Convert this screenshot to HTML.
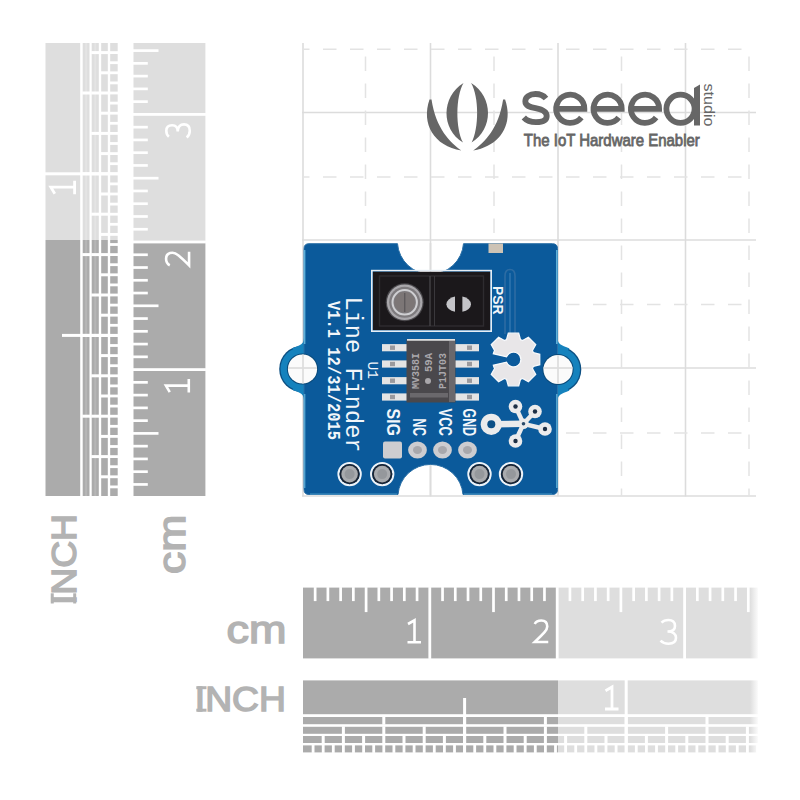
<!DOCTYPE html>
<html><head><meta charset="utf-8"><style>
html,body{margin:0;padding:0;background:#fff;width:800px;height:800px;overflow:hidden}
svg{display:block}
</style></head><body>
<svg width="800" height="800" viewBox="0 0 800 800" font-family="Liberation Sans, sans-serif">
<rect width="800" height="800" fill="#fff"/>
<line x1="303" y1="43" x2="303" y2="496.5" stroke="#dcdcdc" stroke-width="1.6"/>
<line x1="430.5" y1="43" x2="430.5" y2="496.5" stroke="#dcdcdc" stroke-width="1.6"/>
<line x1="558" y1="43" x2="558" y2="496.5" stroke="#dcdcdc" stroke-width="1.6"/>
<line x1="685.5" y1="43" x2="685.5" y2="496.5" stroke="#dcdcdc" stroke-width="1.6"/>
<line x1="302" y1="112.5" x2="756" y2="112.5" stroke="#dcdcdc" stroke-width="1.6"/>
<line x1="302" y1="240" x2="756" y2="240" stroke="#dcdcdc" stroke-width="1.6"/>
<line x1="302" y1="368" x2="756" y2="368" stroke="#dcdcdc" stroke-width="1.6"/>
<line x1="302" y1="496" x2="756" y2="496" stroke="#dcdcdc" stroke-width="1.6"/>
<line x1="365.5" y1="56.5" x2="365.5" y2="496" stroke="#e3e3e3" stroke-width="1.5" stroke-dasharray="14.5 12.5"/>
<line x1="494" y1="56.5" x2="494" y2="496" stroke="#e3e3e3" stroke-width="1.5" stroke-dasharray="14.5 12.5"/>
<line x1="621.5" y1="56.5" x2="621.5" y2="496" stroke="#e3e3e3" stroke-width="1.5" stroke-dasharray="14.5 12.5"/>
<line x1="749" y1="56.5" x2="749" y2="496" stroke="#e3e3e3" stroke-width="1.5" stroke-dasharray="14.5 12.5"/>
<line x1="303" y1="49.2" x2="742" y2="49.2" stroke="#e3e3e3" stroke-width="1.5" stroke-dasharray="13.5 13.5" stroke-dashoffset="7"/>
<line x1="303" y1="177" x2="742" y2="177" stroke="#e3e3e3" stroke-width="1.5" stroke-dasharray="13.5 13.5" stroke-dashoffset="7"/>
<line x1="303" y1="304.5" x2="742" y2="304.5" stroke="#e3e3e3" stroke-width="1.5" stroke-dasharray="13.5 13.5" stroke-dashoffset="7"/>
<line x1="303" y1="433" x2="742" y2="433" stroke="#e3e3e3" stroke-width="1.5" stroke-dasharray="13.5 13.5" stroke-dashoffset="7"/>
<rect x="45.5" y="43" width="34.70" height="197" fill="#dedede"/>
<rect x="45.5" y="240" width="34.70" height="256" fill="#ababab"/>
<rect x="82.7" y="43" width="6.80" height="197" fill="#dedede"/>
<rect x="82.7" y="240" width="6.80" height="256" fill="#ababab"/>
<rect x="85.10" y="43" width="2" height="197" fill="#e4e4e4"/>
<rect x="85.10" y="240" width="2" height="256" fill="#b6b6b6"/>
<rect x="82.2" y="414.70" width="7.80" height="3" fill="#ffffff"/>
<rect x="82.2" y="333.90" width="7.80" height="3" fill="#ffffff"/>
<rect x="82.2" y="253.10" width="7.80" height="3" fill="#ffffff"/>
<rect x="82.2" y="172.30" width="7.80" height="3" fill="#ffffff"/>
<rect x="82.2" y="91.50" width="7.80" height="3" fill="#ffffff"/>
<rect x="91.7" y="43" width="7.10" height="197" fill="#dedede"/>
<rect x="91.7" y="240" width="7.10" height="256" fill="#ababab"/>
<rect x="94.25" y="43" width="2" height="197" fill="#e4e4e4"/>
<rect x="94.25" y="240" width="2" height="256" fill="#b6b6b6"/>
<rect x="91.2" y="455.10" width="8.10" height="3" fill="#ffffff"/>
<rect x="91.2" y="414.70" width="8.10" height="3" fill="#ffffff"/>
<rect x="91.2" y="374.30" width="8.10" height="3" fill="#ffffff"/>
<rect x="91.2" y="333.90" width="8.10" height="3" fill="#ffffff"/>
<rect x="91.2" y="293.50" width="8.10" height="3" fill="#ffffff"/>
<rect x="91.2" y="253.10" width="8.10" height="3" fill="#ffffff"/>
<rect x="91.2" y="212.70" width="8.10" height="3" fill="#ffffff"/>
<rect x="91.2" y="172.30" width="8.10" height="3" fill="#ffffff"/>
<rect x="91.2" y="131.90" width="8.10" height="3" fill="#ffffff"/>
<rect x="91.2" y="91.50" width="8.10" height="3" fill="#ffffff"/>
<rect x="91.2" y="51.10" width="8.10" height="3" fill="#ffffff"/>
<rect x="101.2" y="43" width="6.60" height="197" fill="#dedede"/>
<rect x="101.2" y="240" width="6.60" height="256" fill="#ababab"/>
<rect x="100.7" y="475.30" width="7.60" height="3" fill="#ffffff"/>
<rect x="100.7" y="455.10" width="7.60" height="3" fill="#ffffff"/>
<rect x="100.7" y="434.90" width="7.60" height="3" fill="#ffffff"/>
<rect x="100.7" y="414.70" width="7.60" height="3" fill="#ffffff"/>
<rect x="100.7" y="394.50" width="7.60" height="3" fill="#ffffff"/>
<rect x="100.7" y="374.30" width="7.60" height="3" fill="#ffffff"/>
<rect x="100.7" y="354.10" width="7.60" height="3" fill="#ffffff"/>
<rect x="100.7" y="333.90" width="7.60" height="3" fill="#ffffff"/>
<rect x="100.7" y="313.70" width="7.60" height="3" fill="#ffffff"/>
<rect x="100.7" y="293.50" width="7.60" height="3" fill="#ffffff"/>
<rect x="100.7" y="273.30" width="7.60" height="3" fill="#ffffff"/>
<rect x="100.7" y="253.10" width="7.60" height="3" fill="#ffffff"/>
<rect x="100.7" y="232.90" width="7.60" height="3" fill="#ffffff"/>
<rect x="100.7" y="212.70" width="7.60" height="3" fill="#ffffff"/>
<rect x="100.7" y="192.50" width="7.60" height="3" fill="#ffffff"/>
<rect x="100.7" y="172.30" width="7.60" height="3" fill="#ffffff"/>
<rect x="100.7" y="152.10" width="7.60" height="3" fill="#ffffff"/>
<rect x="100.7" y="131.90" width="7.60" height="3" fill="#ffffff"/>
<rect x="100.7" y="111.70" width="7.60" height="3" fill="#ffffff"/>
<rect x="100.7" y="91.50" width="7.60" height="3" fill="#ffffff"/>
<rect x="100.7" y="71.30" width="7.60" height="3" fill="#ffffff"/>
<rect x="100.7" y="51.10" width="7.60" height="3" fill="#ffffff"/>
<rect x="110.2" y="43" width="7.50" height="197" fill="#dedede"/>
<rect x="110.2" y="240" width="7.50" height="256" fill="#ababab"/>
<rect x="109.7" y="485.50" width="8.50" height="2.8" fill="#ffffff"/>
<rect x="109.7" y="475.40" width="8.50" height="2.8" fill="#ffffff"/>
<rect x="109.7" y="465.30" width="8.50" height="2.8" fill="#ffffff"/>
<rect x="109.7" y="455.20" width="8.50" height="2.8" fill="#ffffff"/>
<rect x="109.7" y="445.10" width="8.50" height="2.8" fill="#ffffff"/>
<rect x="109.7" y="435.00" width="8.50" height="2.8" fill="#ffffff"/>
<rect x="109.7" y="424.90" width="8.50" height="2.8" fill="#ffffff"/>
<rect x="109.7" y="414.80" width="8.50" height="2.8" fill="#ffffff"/>
<rect x="109.7" y="404.70" width="8.50" height="2.8" fill="#ffffff"/>
<rect x="109.7" y="394.60" width="8.50" height="2.8" fill="#ffffff"/>
<rect x="109.7" y="384.50" width="8.50" height="2.8" fill="#ffffff"/>
<rect x="109.7" y="374.40" width="8.50" height="2.8" fill="#ffffff"/>
<rect x="109.7" y="364.30" width="8.50" height="2.8" fill="#ffffff"/>
<rect x="109.7" y="354.20" width="8.50" height="2.8" fill="#ffffff"/>
<rect x="109.7" y="344.10" width="8.50" height="2.8" fill="#ffffff"/>
<rect x="109.7" y="334.00" width="8.50" height="2.8" fill="#ffffff"/>
<rect x="109.7" y="323.90" width="8.50" height="2.8" fill="#ffffff"/>
<rect x="109.7" y="313.80" width="8.50" height="2.8" fill="#ffffff"/>
<rect x="109.7" y="303.70" width="8.50" height="2.8" fill="#ffffff"/>
<rect x="109.7" y="293.60" width="8.50" height="2.8" fill="#ffffff"/>
<rect x="109.7" y="283.50" width="8.50" height="2.8" fill="#ffffff"/>
<rect x="109.7" y="273.40" width="8.50" height="2.8" fill="#ffffff"/>
<rect x="109.7" y="263.30" width="8.50" height="2.8" fill="#ffffff"/>
<rect x="109.7" y="253.20" width="8.50" height="2.8" fill="#ffffff"/>
<rect x="109.7" y="243.10" width="8.50" height="2.8" fill="#ffffff"/>
<rect x="109.7" y="233.00" width="8.50" height="2.8" fill="#ffffff"/>
<rect x="109.7" y="222.90" width="8.50" height="2.8" fill="#ffffff"/>
<rect x="109.7" y="212.80" width="8.50" height="2.8" fill="#ffffff"/>
<rect x="109.7" y="202.70" width="8.50" height="2.8" fill="#ffffff"/>
<rect x="109.7" y="192.60" width="8.50" height="2.8" fill="#ffffff"/>
<rect x="109.7" y="182.50" width="8.50" height="2.8" fill="#ffffff"/>
<rect x="109.7" y="172.40" width="8.50" height="2.8" fill="#ffffff"/>
<rect x="109.7" y="162.30" width="8.50" height="2.8" fill="#ffffff"/>
<rect x="109.7" y="152.20" width="8.50" height="2.8" fill="#ffffff"/>
<rect x="109.7" y="142.10" width="8.50" height="2.8" fill="#ffffff"/>
<rect x="109.7" y="132.00" width="8.50" height="2.8" fill="#ffffff"/>
<rect x="109.7" y="121.90" width="8.50" height="2.8" fill="#ffffff"/>
<rect x="109.7" y="111.80" width="8.50" height="2.8" fill="#ffffff"/>
<rect x="109.7" y="101.70" width="8.50" height="2.8" fill="#ffffff"/>
<rect x="109.7" y="91.60" width="8.50" height="2.8" fill="#ffffff"/>
<rect x="109.7" y="81.50" width="8.50" height="2.8" fill="#ffffff"/>
<rect x="109.7" y="71.40" width="8.50" height="2.8" fill="#ffffff"/>
<rect x="109.7" y="61.30" width="8.50" height="2.8" fill="#ffffff"/>
<rect x="109.7" y="51.20" width="8.50" height="2.8" fill="#ffffff"/>
<rect x="62" y="333.90" width="57" height="3" fill="#ffffff"/>
<rect x="44" y="172.30" width="75" height="3" fill="#ffffff"/>
<rect x="62" y="10.70" width="57" height="3" fill="#ffffff"/>
<rect x="133.5" y="43" width="71.90" height="199" fill="#dedede"/>
<rect x="133.5" y="242" width="71.90" height="254" fill="#ababab"/>
<rect x="133.0" y="483.09" width="14.8" height="2.7" fill="#ffffff"/>
<rect x="133.0" y="470.33" width="14.8" height="2.7" fill="#ffffff"/>
<rect x="133.0" y="457.57" width="14.8" height="2.7" fill="#ffffff"/>
<rect x="133.0" y="444.81" width="14.8" height="2.7" fill="#ffffff"/>
<rect x="133.0" y="432.05" width="25.5" height="2.7" fill="#ffffff"/>
<rect x="133.0" y="419.29" width="14.8" height="2.7" fill="#ffffff"/>
<rect x="133.0" y="406.53" width="14.8" height="2.7" fill="#ffffff"/>
<rect x="133.0" y="393.77" width="14.8" height="2.7" fill="#ffffff"/>
<rect x="133.0" y="381.01" width="14.8" height="2.7" fill="#ffffff"/>
<rect x="133.0" y="368.20" width="72.90" height="2.8" fill="#ffffff"/>
<rect x="133.0" y="355.49" width="14.8" height="2.7" fill="#ffffff"/>
<rect x="133.0" y="342.73" width="14.8" height="2.7" fill="#ffffff"/>
<rect x="133.0" y="329.97" width="14.8" height="2.7" fill="#ffffff"/>
<rect x="133.0" y="317.21" width="14.8" height="2.7" fill="#ffffff"/>
<rect x="133.0" y="304.45" width="25.5" height="2.7" fill="#ffffff"/>
<rect x="133.0" y="291.69" width="14.8" height="2.7" fill="#ffffff"/>
<rect x="133.0" y="278.93" width="14.8" height="2.7" fill="#ffffff"/>
<rect x="133.0" y="266.17" width="14.8" height="2.7" fill="#ffffff"/>
<rect x="133.0" y="253.41" width="14.8" height="2.7" fill="#ffffff"/>
<rect x="133.0" y="240.60" width="72.90" height="2.8" fill="#ffffff"/>
<rect x="133.0" y="227.89" width="14.8" height="2.7" fill="#ffffff"/>
<rect x="133.0" y="215.13" width="14.8" height="2.7" fill="#ffffff"/>
<rect x="133.0" y="202.37" width="14.8" height="2.7" fill="#ffffff"/>
<rect x="133.0" y="189.61" width="14.8" height="2.7" fill="#ffffff"/>
<rect x="133.0" y="176.85" width="25.5" height="2.7" fill="#ffffff"/>
<rect x="133.0" y="164.09" width="14.8" height="2.7" fill="#ffffff"/>
<rect x="133.0" y="151.33" width="14.8" height="2.7" fill="#ffffff"/>
<rect x="133.0" y="138.57" width="14.8" height="2.7" fill="#ffffff"/>
<rect x="133.0" y="125.81" width="14.8" height="2.7" fill="#ffffff"/>
<rect x="133.0" y="113.00" width="72.90" height="2.8" fill="#ffffff"/>
<rect x="133.0" y="100.29" width="14.8" height="2.7" fill="#ffffff"/>
<rect x="133.0" y="87.53" width="14.8" height="2.7" fill="#ffffff"/>
<rect x="133.0" y="74.77" width="14.8" height="2.7" fill="#ffffff"/>
<rect x="133.0" y="62.01" width="14.8" height="2.7" fill="#ffffff"/>
<rect x="133.0" y="49.25" width="25.5" height="2.7" fill="#ffffff"/>
<path d="M0.5,4 L7,0.3 L7,22.3 M0,22.3 L13.5,22.3" transform="translate(165.6,392.6) rotate(-90) scale(1.0,1.04)" fill="none" stroke="#ffffff" stroke-width="2.60" vector-effect="non-scaling-stroke"/>
<path d="M1.5,4.5 C3,1.5 5.5,1 8,1 C12,1 14,3.5 14,7 C14,10.5 11,13.5 1.5,22.5 L15,22.5" transform="translate(165,266.8) rotate(-90) scale(1.0,1.07)" fill="none" stroke="#ffffff" stroke-width="2.60" vector-effect="non-scaling-stroke"/>
<path d="M1,3 C3,1 6,0.5 8,0.5 C12,0.5 14.5,2.5 14.5,6.2 C14.5,9.8 11.5,11.7 7,11.7 C12.5,11.7 15.5,14.2 15.5,17.8 C15.5,21.8 12.5,23.5 8,23.5 C5,23.5 2,22.5 0,20.5" transform="translate(165.8,137.5) rotate(-90) scale(0.85,1.02)" fill="none" stroke="#ffffff" stroke-width="2.60" vector-effect="non-scaling-stroke"/>
<path d="M0.5,4 L7,0.3 L7,22.3 M0,22.3 L13.5,22.3" transform="translate(50.5,194.2) rotate(-90) scale(1.0,1.08)" fill="none" stroke="#ffffff" stroke-width="2.80" vector-effect="non-scaling-stroke"/>
<rect x="303" y="587.6" width="255" height="70.80" fill="#ababab"/>
<rect x="558" y="587.6" width="200" height="70.80" fill="#dedede"/>
<rect x="313.79" y="587.1" width="2.7" height="14" fill="#ffffff"/>
<rect x="326.53" y="587.1" width="2.7" height="14" fill="#ffffff"/>
<rect x="339.27" y="587.1" width="2.7" height="14" fill="#ffffff"/>
<rect x="352.01" y="587.1" width="2.7" height="14" fill="#ffffff"/>
<rect x="364.75" y="587.1" width="2.7" height="25" fill="#ffffff"/>
<rect x="377.49" y="587.1" width="2.7" height="14" fill="#ffffff"/>
<rect x="390.23" y="587.1" width="2.7" height="14" fill="#ffffff"/>
<rect x="402.97" y="587.1" width="2.7" height="14" fill="#ffffff"/>
<rect x="415.71" y="587.1" width="2.7" height="14" fill="#ffffff"/>
<rect x="428.40" y="587.1" width="2.8" height="71.80" fill="#ffffff"/>
<rect x="441.19" y="587.1" width="2.7" height="14" fill="#ffffff"/>
<rect x="453.93" y="587.1" width="2.7" height="14" fill="#ffffff"/>
<rect x="466.67" y="587.1" width="2.7" height="14" fill="#ffffff"/>
<rect x="479.41" y="587.1" width="2.7" height="14" fill="#ffffff"/>
<rect x="492.15" y="587.1" width="2.7" height="25" fill="#ffffff"/>
<rect x="504.89" y="587.1" width="2.7" height="14" fill="#ffffff"/>
<rect x="517.63" y="587.1" width="2.7" height="14" fill="#ffffff"/>
<rect x="530.37" y="587.1" width="2.7" height="14" fill="#ffffff"/>
<rect x="543.11" y="587.1" width="2.7" height="14" fill="#ffffff"/>
<rect x="555.80" y="587.1" width="2.8" height="71.80" fill="#ffffff"/>
<rect x="568.59" y="587.1" width="2.7" height="14" fill="#ffffff"/>
<rect x="581.33" y="587.1" width="2.7" height="14" fill="#ffffff"/>
<rect x="594.07" y="587.1" width="2.7" height="14" fill="#ffffff"/>
<rect x="606.81" y="587.1" width="2.7" height="14" fill="#ffffff"/>
<rect x="619.55" y="587.1" width="2.7" height="25" fill="#ffffff"/>
<rect x="632.29" y="587.1" width="2.7" height="14" fill="#ffffff"/>
<rect x="645.03" y="587.1" width="2.7" height="14" fill="#ffffff"/>
<rect x="657.77" y="587.1" width="2.7" height="14" fill="#ffffff"/>
<rect x="670.51" y="587.1" width="2.7" height="14" fill="#ffffff"/>
<rect x="683.20" y="587.1" width="2.8" height="71.80" fill="#ffffff"/>
<rect x="695.99" y="587.1" width="2.7" height="14" fill="#ffffff"/>
<rect x="708.73" y="587.1" width="2.7" height="14" fill="#ffffff"/>
<rect x="721.47" y="587.1" width="2.7" height="14" fill="#ffffff"/>
<rect x="734.21" y="587.1" width="2.7" height="14" fill="#ffffff"/>
<rect x="746.95" y="587.1" width="2.7" height="25" fill="#ffffff"/>
<path d="M0.5,4 L7,0.3 L7,22.3 M0,22.3 L13.5,22.3" transform="translate(407.5,620)" fill="none" stroke="#ffffff" stroke-width="2.60" vector-effect="non-scaling-stroke"/>
<path d="M1.5,4.5 C3,1.5 5.5,1 8,1 C12,1 14,3.5 14,7 C14,10.5 11,13.5 1.5,22.5 L15,22.5" transform="translate(533.25,619.5)" fill="none" stroke="#ffffff" stroke-width="2.60" vector-effect="non-scaling-stroke"/>
<path d="M1,3 C3,1 6,0.5 8,0.5 C12,0.5 14.5,2.5 14.5,6.2 C14.5,9.8 11.5,11.7 7,11.7 C12.5,11.7 15.5,14.2 15.5,17.8 C15.5,21.8 12.5,23.5 8,23.5 C5,23.5 2,22.5 0,20.5" transform="translate(660.5,619.5) scale(1.0,1.03)" fill="none" stroke="#ffffff" stroke-width="2.60" vector-effect="non-scaling-stroke"/>
<rect x="303" y="680.4" width="255" height="33.80" fill="#ababab"/>
<rect x="558" y="680.4" width="200" height="33.80" fill="#dedede"/>
<rect x="303" y="717" width="255" height="7.20" fill="#ababab"/>
<rect x="558" y="717" width="200" height="7.20" fill="#dedede"/>
<rect x="382.30" y="716.5" width="3" height="8.20" fill="#ffffff"/>
<rect x="463.10" y="716.5" width="3" height="8.20" fill="#ffffff"/>
<rect x="543.90" y="716.5" width="3" height="8.20" fill="#ffffff"/>
<rect x="624.70" y="716.5" width="3" height="8.20" fill="#ffffff"/>
<rect x="705.50" y="716.5" width="3" height="8.20" fill="#ffffff"/>
<rect x="303" y="726.8" width="255" height="7.00" fill="#ababab"/>
<rect x="558" y="726.8" width="200" height="7.00" fill="#dedede"/>
<rect x="341.90" y="726.3" width="3" height="8.00" fill="#ffffff"/>
<rect x="382.30" y="726.3" width="3" height="8.00" fill="#ffffff"/>
<rect x="422.70" y="726.3" width="3" height="8.00" fill="#ffffff"/>
<rect x="463.10" y="726.3" width="3" height="8.00" fill="#ffffff"/>
<rect x="503.50" y="726.3" width="3" height="8.00" fill="#ffffff"/>
<rect x="543.90" y="726.3" width="3" height="8.00" fill="#ffffff"/>
<rect x="584.30" y="726.3" width="3" height="8.00" fill="#ffffff"/>
<rect x="624.70" y="726.3" width="3" height="8.00" fill="#ffffff"/>
<rect x="665.10" y="726.3" width="3" height="8.00" fill="#ffffff"/>
<rect x="705.50" y="726.3" width="3" height="8.00" fill="#ffffff"/>
<rect x="745.90" y="726.3" width="3" height="8.00" fill="#ffffff"/>
<rect x="303" y="736" width="255" height="7.00" fill="#ababab"/>
<rect x="558" y="736" width="200" height="7.00" fill="#dedede"/>
<rect x="321.70" y="735.5" width="3" height="8.00" fill="#ffffff"/>
<rect x="341.90" y="735.5" width="3" height="8.00" fill="#ffffff"/>
<rect x="362.10" y="735.5" width="3" height="8.00" fill="#ffffff"/>
<rect x="382.30" y="735.5" width="3" height="8.00" fill="#ffffff"/>
<rect x="402.50" y="735.5" width="3" height="8.00" fill="#ffffff"/>
<rect x="422.70" y="735.5" width="3" height="8.00" fill="#ffffff"/>
<rect x="442.90" y="735.5" width="3" height="8.00" fill="#ffffff"/>
<rect x="463.10" y="735.5" width="3" height="8.00" fill="#ffffff"/>
<rect x="483.30" y="735.5" width="3" height="8.00" fill="#ffffff"/>
<rect x="503.50" y="735.5" width="3" height="8.00" fill="#ffffff"/>
<rect x="523.70" y="735.5" width="3" height="8.00" fill="#ffffff"/>
<rect x="543.90" y="735.5" width="3" height="8.00" fill="#ffffff"/>
<rect x="564.10" y="735.5" width="3" height="8.00" fill="#ffffff"/>
<rect x="584.30" y="735.5" width="3" height="8.00" fill="#ffffff"/>
<rect x="604.50" y="735.5" width="3" height="8.00" fill="#ffffff"/>
<rect x="624.70" y="735.5" width="3" height="8.00" fill="#ffffff"/>
<rect x="644.90" y="735.5" width="3" height="8.00" fill="#ffffff"/>
<rect x="665.10" y="735.5" width="3" height="8.00" fill="#ffffff"/>
<rect x="685.30" y="735.5" width="3" height="8.00" fill="#ffffff"/>
<rect x="705.50" y="735.5" width="3" height="8.00" fill="#ffffff"/>
<rect x="725.70" y="735.5" width="3" height="8.00" fill="#ffffff"/>
<rect x="745.90" y="735.5" width="3" height="8.00" fill="#ffffff"/>
<rect x="303" y="745.4" width="255" height="7.00" fill="#ababab"/>
<rect x="558" y="745.4" width="200" height="7.00" fill="#dedede"/>
<rect x="311.70" y="744.9" width="2.8" height="8.00" fill="#ffffff"/>
<rect x="321.80" y="744.9" width="2.8" height="8.00" fill="#ffffff"/>
<rect x="331.90" y="744.9" width="2.8" height="8.00" fill="#ffffff"/>
<rect x="342.00" y="744.9" width="2.8" height="8.00" fill="#ffffff"/>
<rect x="352.10" y="744.9" width="2.8" height="8.00" fill="#ffffff"/>
<rect x="362.20" y="744.9" width="2.8" height="8.00" fill="#ffffff"/>
<rect x="372.30" y="744.9" width="2.8" height="8.00" fill="#ffffff"/>
<rect x="382.40" y="744.9" width="2.8" height="8.00" fill="#ffffff"/>
<rect x="392.50" y="744.9" width="2.8" height="8.00" fill="#ffffff"/>
<rect x="402.60" y="744.9" width="2.8" height="8.00" fill="#ffffff"/>
<rect x="412.70" y="744.9" width="2.8" height="8.00" fill="#ffffff"/>
<rect x="422.80" y="744.9" width="2.8" height="8.00" fill="#ffffff"/>
<rect x="432.90" y="744.9" width="2.8" height="8.00" fill="#ffffff"/>
<rect x="443.00" y="744.9" width="2.8" height="8.00" fill="#ffffff"/>
<rect x="453.10" y="744.9" width="2.8" height="8.00" fill="#ffffff"/>
<rect x="463.20" y="744.9" width="2.8" height="8.00" fill="#ffffff"/>
<rect x="473.30" y="744.9" width="2.8" height="8.00" fill="#ffffff"/>
<rect x="483.40" y="744.9" width="2.8" height="8.00" fill="#ffffff"/>
<rect x="493.50" y="744.9" width="2.8" height="8.00" fill="#ffffff"/>
<rect x="503.60" y="744.9" width="2.8" height="8.00" fill="#ffffff"/>
<rect x="513.70" y="744.9" width="2.8" height="8.00" fill="#ffffff"/>
<rect x="523.80" y="744.9" width="2.8" height="8.00" fill="#ffffff"/>
<rect x="533.90" y="744.9" width="2.8" height="8.00" fill="#ffffff"/>
<rect x="544.00" y="744.9" width="2.8" height="8.00" fill="#ffffff"/>
<rect x="554.10" y="744.9" width="2.8" height="8.00" fill="#ffffff"/>
<rect x="564.20" y="744.9" width="2.8" height="8.00" fill="#ffffff"/>
<rect x="574.30" y="744.9" width="2.8" height="8.00" fill="#ffffff"/>
<rect x="584.40" y="744.9" width="2.8" height="8.00" fill="#ffffff"/>
<rect x="594.50" y="744.9" width="2.8" height="8.00" fill="#ffffff"/>
<rect x="604.60" y="744.9" width="2.8" height="8.00" fill="#ffffff"/>
<rect x="614.70" y="744.9" width="2.8" height="8.00" fill="#ffffff"/>
<rect x="624.80" y="744.9" width="2.8" height="8.00" fill="#ffffff"/>
<rect x="634.90" y="744.9" width="2.8" height="8.00" fill="#ffffff"/>
<rect x="645.00" y="744.9" width="2.8" height="8.00" fill="#ffffff"/>
<rect x="655.10" y="744.9" width="2.8" height="8.00" fill="#ffffff"/>
<rect x="665.20" y="744.9" width="2.8" height="8.00" fill="#ffffff"/>
<rect x="675.30" y="744.9" width="2.8" height="8.00" fill="#ffffff"/>
<rect x="685.40" y="744.9" width="2.8" height="8.00" fill="#ffffff"/>
<rect x="695.50" y="744.9" width="2.8" height="8.00" fill="#ffffff"/>
<rect x="705.60" y="744.9" width="2.8" height="8.00" fill="#ffffff"/>
<rect x="715.70" y="744.9" width="2.8" height="8.00" fill="#ffffff"/>
<rect x="725.80" y="744.9" width="2.8" height="8.00" fill="#ffffff"/>
<rect x="735.90" y="744.9" width="2.8" height="8.00" fill="#ffffff"/>
<rect x="746.00" y="744.9" width="2.8" height="8.00" fill="#ffffff"/>
<rect x="756.10" y="744.9" width="2.8" height="8.00" fill="#ffffff"/>
<rect x="463.10" y="698" width="3" height="56" fill="#ffffff"/>
<rect x="624.70" y="679" width="3" height="75" fill="#ffffff"/>
<rect x="786.30" y="698" width="3" height="56" fill="#ffffff"/>
<path d="M0.5,4 L7,0.3 L7,22.3 M0,22.3 L13.5,22.3" transform="translate(605,686.7)" fill="none" stroke="#ffffff" stroke-width="2.80" vector-effect="non-scaling-stroke"/>
<defs><linearGradient id="fr" x1="0" x2="1" y1="0" y2="0"><stop offset="0" stop-color="#fff" stop-opacity="0"/><stop offset="1" stop-color="#fff" stop-opacity="1"/></linearGradient></defs>
<rect x="750" y="580" width="9" height="180" fill="url(#fr)"/>
<text x="194.8" y="711.2" font-size="35.5" textLength="91" font-family="Liberation Sans" fill="#b3b3b3" stroke="#b3b3b3" stroke-width="1.5" lengthAdjust="spacingAndGlyphs">INCH</text>
<rect x="196.3" y="686.2" width="10.2" height="3" fill="#b3b3b3"/><rect x="196.3" y="708.7" width="10.2" height="3" fill="#b3b3b3"/>
<rect x="50.75" y="593.3" width="3" height="10.2" fill="#b3b3b3"/><rect x="73.2" y="593.3" width="3" height="10.2" fill="#b3b3b3"/>
<text x="226.5" y="643.3" font-size="39.5" textLength="60" font-family="Liberation Sans" fill="#b3b3b3" stroke="#b3b3b3" stroke-width="1.5" lengthAdjust="spacingAndGlyphs">cm</text>
<text transform="translate(75.7,605) rotate(-90)" font-size="35.5" textLength="91" font-family="Liberation Sans" fill="#b3b3b3" stroke="#b3b3b3" stroke-width="1.5" lengthAdjust="spacingAndGlyphs">INCH</text>
<text transform="translate(184.8,574) rotate(-90)" font-size="39.5" textLength="59.5" font-family="Liberation Sans" fill="#b3b3b3" stroke="#b3b3b3" stroke-width="1.5" lengthAdjust="spacingAndGlyphs">cm</text>
<path d="M463.5,83 C441,97 441,129 463,142.6 C455.5,128 455.5,97 463.5,83Z" fill="#666666"/>
<path d="M471.1,83 C493.6,97 493.6,129 471.6,142.6 C479.1,128 479.1,97 471.1,83Z" fill="#666666"/>
<path d="M429.5,99.5 C421,124 434,146 461.4,150.6 C450,142 436,129 431.5,99.5Z" fill="#666666"/>
<path d="M505.1,99.5 C513.6,124 500.6,146 473.2,150.6 C484.6,142 498.6,129 503.1,99.5Z" fill="#666666"/>
<path d="M546,98.5 C543.5,95.5 540,94 535.5,94 C529.5,94 525.3,97 525.3,101.3 C525.3,106 530,107.2 535.5,108.2 C541.5,109.3 546.7,111 546.7,116 C546.7,120.5 542,122.2 536,122.2 C530.5,122.2 526.5,120.5 523.8,117.5" fill="none" stroke="#666666" stroke-width="5.8"/>
<path d="M555.15,108.80 L584.35,108.80 A14.1,14.1 0 1 0 581.36,117.48" fill="none" stroke="#666666" stroke-width="5.8"/>
<path d="M592.50,108.80 L621.70,108.80 A14.1,14.1 0 1 0 618.71,117.48" fill="none" stroke="#666666" stroke-width="5.8"/>
<path d="M629.90,108.80 L659.10,108.80 A14.1,14.1 0 1 0 656.11,117.48" fill="none" stroke="#666666" stroke-width="5.8"/>
<circle cx="680.5" cy="108.8" r="14.1" fill="none" stroke="#666666" stroke-width="5.8"/>
<path d="M694,88 L700,84.5 L700,125.6 L694,125.6Z" fill="#666666"/>
<text transform="translate(704,83.5) rotate(90)" font-family="Liberation Sans" font-size="14" fill="#666666" textLength="43" lengthAdjust="spacingAndGlyphs">studio</text>
<text x="523.8" y="145.6" font-family="Liberation Sans" font-size="17" fill="#666666" stroke="#666666" stroke-width="0.8" textLength="176" lengthAdjust="spacingAndGlyphs">The IoT Hardware Enabler</text>
<circle cx="302.5" cy="369" r="23.3" fill="#0c4f82"/>
<circle cx="302.5" cy="369" r="22" fill="#1582bd"/>
<circle cx="558" cy="369.5" r="23.3" fill="#0c4f82"/>
<circle cx="558" cy="369.5" r="22" fill="#1582bd"/>
<path d="M304,338 C304,346 296,346 292,348.5 L304,360Z" fill="#1582bd"/>
<path d="M304,400 C304,392 296,392 292,389.5 L304,378Z" fill="#1582bd"/>
<path d="M557.5,338 C557.5,346 565.5,346 569.5,348.5 L557.5,360Z" fill="#1582bd"/>
<path d="M557.5,401 C557.5,393 565.5,393 569.5,390.5 L557.5,379Z" fill="#1582bd"/>
<path d="M309,243.7 L397.5,243.7 A33.1,33.1 0 0 0 463.5,243.7 L552.5,243.7 Q557.5,243.7 557.5,248.7 L557.5,489.5 Q557.5,494.5 552.5,494.5 L463,494.5 A32.6,32.6 0 0 0 398,494.5 L309,494.5 Q304,494.5 304,489.5 L304,248.7 Q304,243.7 309,243.7Z" fill="#0b5a9b" stroke="#2a6fa6" stroke-width="1"/>
<line x1="304.6" y1="250" x2="304.6" y2="344" stroke="#5fb0d8" stroke-width="1.6" opacity="1"/>
<line x1="304.6" y1="394" x2="304.6" y2="488" stroke="#5fb0d8" stroke-width="1.6" opacity="0.85"/>
<line x1="556.8" y1="250" x2="556.8" y2="344" stroke="#5fb0d8" stroke-width="1.6" opacity="1"/>
<line x1="556.8" y1="394" x2="556.8" y2="488" stroke="#5fb0d8" stroke-width="1.6" opacity="0.85"/>
<line x1="310" y1="494" x2="397" y2="494" stroke="#5fb0d8" stroke-width="1.2" opacity="0.7"/>
<line x1="464" y1="494" x2="552" y2="494" stroke="#5fb0d8" stroke-width="1.2" opacity="0.7"/>
<circle cx="302.5" cy="369" r="15.6" fill="#0a4a7a"/>
<circle cx="302.5" cy="369" r="14.6" fill="#fbfbfb"/>
<circle cx="558" cy="369.5" r="15.6" fill="#0a4a7a"/>
<circle cx="558" cy="369.5" r="14.6" fill="#fbfbfb"/>
<line x1="303" y1="354.5" x2="303" y2="383.5" stroke="#dcdcdc" stroke-width="1.7"/>
<line x1="288" y1="368" x2="317" y2="368" stroke="#dcdcdc" stroke-width="1.7"/>
<line x1="543.5" y1="368" x2="572.5" y2="368" stroke="#dcdcdc" stroke-width="1.7"/>
<line x1="558" y1="355" x2="558" y2="384" stroke="#dcdcdc" stroke-width="1.7"/>
<line x1="430.5" y1="243" x2="430.5" y2="271" stroke="#dcdcdc" stroke-width="1.7"/>
<line x1="430.5" y1="465" x2="430.5" y2="496" stroke="#dcdcdc" stroke-width="1.7"/>
<rect x="488.5" y="243.5" width="14.5" height="9.5" fill="#cdc3b5"/>
<rect x="371.8" y="270.6" width="119.4" height="60.6" fill="none" stroke="#e6edf4" stroke-width="1.6"/>
<rect x="373" y="271.8" width="117" height="58.2" fill="#1b181b"/>
<rect x="379.5" y="276" width="104" height="50" fill="none" stroke="#2e2c30" stroke-width="1.4"/>
<line x1="430" y1="276" x2="430" y2="326" stroke="#48464a" stroke-width="1.3"/>
<line x1="434.5" y1="276" x2="434.5" y2="326" stroke="#3a383c" stroke-width="1.0"/>
<circle cx="404.7" cy="302.3" r="19" fill="#4a484c"/>
<circle cx="404.7" cy="302.3" r="17.8" fill="#aaa8ac"/>
<circle cx="404.7" cy="302.3" r="15.5" fill="#7e7b7e"/>
<circle cx="404.7" cy="302.3" r="12.2" fill="none" stroke="#cfcfd2" stroke-width="2"/>
<circle cx="404.7" cy="302.3" r="10.2" fill="#7c7676"/>
<line x1="404.7" y1="293" x2="404.7" y2="312" stroke="#5e5a5c" stroke-width="1.4"/>
<path d="M446.4,304.2 A12.3,8 0 0 1 455,296.6 L455,311.8 A12.3,8 0 0 1 446.4,304.2Z" fill="#c4c4c8"/>
<path d="M471,304.2 A12.3,8 0 0 0 462.4,296.6 L462.4,311.8 A12.3,8 0 0 0 471,304.2Z" fill="#c4c4c8"/>
<text transform="translate(493.3,286) rotate(90)" font-family="Liberation Sans" font-weight="bold" font-size="15" fill="#f0f4f8" textLength="28.5" lengthAdjust="spacingAndGlyphs">PSR</text>
<path d="M510,269.5 C506,269.5 505,272 505,276 L505,334 M515,334 L515,276 C515,272 514,269.5 510,269.5" fill="none" stroke="#2d6ca3" stroke-width="1.6"/>
<line x1="510" y1="273" x2="510" y2="334" stroke="#3b7db5" stroke-width="1.2"/>
<rect x="382" y="344.09999999999997" width="25" height="7.2" fill="#e4e4e4"/>
<rect x="390" y="345.5" width="5" height="4.4" fill="#9a9a9e"/>
<rect x="455" y="344.09999999999997" width="24" height="7.2" fill="#e4e4e4"/>
<rect x="467" y="345.5" width="5" height="4.4" fill="#9a9a9e"/>
<rect x="382" y="360.4" width="25" height="7.2" fill="#e4e4e4"/>
<rect x="390" y="361.8" width="5" height="4.4" fill="#9a9a9e"/>
<rect x="455" y="360.4" width="24" height="7.2" fill="#e4e4e4"/>
<rect x="467" y="361.8" width="5" height="4.4" fill="#9a9a9e"/>
<rect x="382" y="377.09999999999997" width="25" height="7.2" fill="#e4e4e4"/>
<rect x="390" y="378.5" width="5" height="4.4" fill="#9a9a9e"/>
<rect x="455" y="377.09999999999997" width="24" height="7.2" fill="#e4e4e4"/>
<rect x="467" y="378.5" width="5" height="4.4" fill="#9a9a9e"/>
<rect x="382" y="393.4" width="25" height="7.2" fill="#e4e4e4"/>
<rect x="390" y="394.8" width="5" height="4.4" fill="#9a9a9e"/>
<rect x="455" y="393.4" width="24" height="7.2" fill="#e4e4e4"/>
<rect x="467" y="394.8" width="5" height="4.4" fill="#9a9a9e"/>
<rect x="406.5" y="339.5" width="49" height="63" fill="#4a484c"/>
<line x1="407" y1="339.8" x2="455" y2="339.8" stroke="#e0e0e0" stroke-width="1.8"/>
<rect x="449" y="341" width="6" height="61" fill="#6a686c"/>
<rect x="410" y="393" width="38" height="4.5" fill="#6a686c"/>
<text transform="translate(419,389) rotate(-90)" font-family="Liberation Mono" font-weight="bold" font-size="11" fill="#a9a7ab" textLength="36" lengthAdjust="spacingAndGlyphs">MV358I</text>
<text transform="translate(432,372) rotate(-90)" font-family="Liberation Mono" font-weight="bold" font-size="11" fill="#a9a7ab" textLength="19" lengthAdjust="spacingAndGlyphs">59A</text>
<circle cx="428" cy="381" r="3" fill="#a9a7ab"/>
<text transform="translate(445.5,389) rotate(-90)" font-family="Liberation Mono" font-weight="bold" font-size="11" fill="#a9a7ab" textLength="36" lengthAdjust="spacingAndGlyphs">P1JT03</text>
<text transform="translate(346,296.5) rotate(90)" font-family="Liberation Mono" font-size="24" fill="#f2f6fa" textLength="156" lengthAdjust="spacingAndGlyphs">Line Finder</text>
<text transform="translate(327.5,301) rotate(90)" font-family="Liberation Mono" font-weight="bold" font-size="18" fill="#f2f6fa" textLength="139" lengthAdjust="spacingAndGlyphs">V1.1 12/31/2015</text>
<text transform="translate(368,361.5) rotate(90)" font-family="Liberation Mono" font-size="15" fill="#f2f6fa" textLength="17.5" lengthAdjust="spacingAndGlyphs">U1</text>
<text transform="translate(386.5,408.5) rotate(90)" font-family="Liberation Sans" font-weight="bold" font-size="18" fill="#f2f6fa" textLength="27.5" lengthAdjust="spacingAndGlyphs">SIG</text>
<text transform="translate(412.5,418.5) rotate(90)" font-family="Liberation Sans" font-weight="bold" font-size="18" fill="#f2f6fa" textLength="17.5" lengthAdjust="spacingAndGlyphs">NC</text>
<text transform="translate(438.5,408.5) rotate(90)" font-family="Liberation Sans" font-weight="bold" font-size="18" fill="#f2f6fa" textLength="27.5" lengthAdjust="spacingAndGlyphs">VCC</text>
<text transform="translate(462.8,408.5) rotate(90)" font-family="Liberation Sans" font-weight="bold" font-size="18" fill="#f2f6fa" textLength="27.5" lengthAdjust="spacingAndGlyphs">GND</text>
<rect x="383" y="441.5" width="19" height="17" rx="2" fill="#cdcdd0"/>
<ellipse cx="417.5" cy="450" rx="9.4" ry="8.6" fill="#cdcdd0"/>
<ellipse cx="417.5" cy="450" rx="4.5" ry="4" fill="#a8a8ac"/>
<ellipse cx="442.5" cy="450" rx="9.4" ry="8.6" fill="#cdcdd0"/>
<ellipse cx="442.5" cy="450" rx="4.5" ry="4" fill="#a8a8ac"/>
<ellipse cx="467.5" cy="450" rx="9.4" ry="8.6" fill="#cdcdd0"/>
<ellipse cx="467.5" cy="450" rx="4.5" ry="4" fill="#a8a8ac"/>
<circle cx="349.6" cy="474.1" r="11.2" fill="none" stroke="#eef3f8" stroke-width="2"/>
<circle cx="349.6" cy="474.1" r="10.1" fill="#1a2433"/>
<circle cx="349.6" cy="474.1" r="8.3" fill="#a9abae"/>
<circle cx="349.6" cy="474.1" r="5" fill="#95989c"/>
<circle cx="382.2" cy="474.1" r="11.2" fill="none" stroke="#eef3f8" stroke-width="2"/>
<circle cx="382.2" cy="474.1" r="10.1" fill="#1a2433"/>
<circle cx="382.2" cy="474.1" r="8.3" fill="#a9abae"/>
<circle cx="382.2" cy="474.1" r="5" fill="#95989c"/>
<circle cx="479.5" cy="474.1" r="11.2" fill="none" stroke="#eef3f8" stroke-width="2"/>
<circle cx="479.5" cy="474.1" r="10.1" fill="#1a2433"/>
<circle cx="479.5" cy="474.1" r="8.3" fill="#a9abae"/>
<circle cx="479.5" cy="474.1" r="5" fill="#95989c"/>
<circle cx="511" cy="474.1" r="11.2" fill="none" stroke="#eef3f8" stroke-width="2"/>
<circle cx="511" cy="474.1" r="10.1" fill="#1a2433"/>
<circle cx="511" cy="474.1" r="8.3" fill="#a9abae"/>
<circle cx="511" cy="474.1" r="5" fill="#95989c"/>
<path d="M493.32,353.70 L493.57,352.87 L493.87,352.05 L494.19,351.24 L494.55,350.45 L491.23,344.59 L498.59,337.23 L504.45,340.55 L504.95,340.32 L505.46,340.10 L505.98,339.89 L506.50,339.70 L508.30,333.21 L518.70,333.21 L520.50,339.70 L521.02,339.89 L521.54,340.10 L522.05,340.32 L522.55,340.55 L528.41,337.23 L535.77,344.59 L532.45,350.45 L532.68,350.95 L532.90,351.46 L533.11,351.98 L533.30,352.50 L539.79,354.30 L539.79,364.70 L533.30,366.50 L533.11,367.02 L532.90,367.54 L532.68,368.05 L532.45,368.55 L535.77,374.41 L528.41,381.77 L522.55,378.45 L522.05,378.68 L521.54,378.90 L521.02,379.11 L520.50,379.30 L518.70,385.79 L508.30,385.79 L506.50,379.30 L505.98,379.11 L505.46,378.90 L504.95,378.68 L504.45,378.45 L498.59,381.77 L491.23,374.41 L494.55,368.55 L494.19,367.76 L493.87,366.95 L493.57,366.13 L493.32,365.30 L506.57,362.10 A7.4,7.4 0 1 0 506.57,356.90 Z" fill="#e8e6e8" stroke="#f8fafc" stroke-width="1.2" fill-rule="evenodd"/>
<line x1="491.3" y1="424.3" x2="523.5" y2="423.8" stroke="#ebebec" stroke-width="6.6"/>
<line x1="523.5" y1="423.8" x2="515.5" y2="406.5" stroke="#ebebec" stroke-width="4.4"/>
<line x1="523.5" y1="423.8" x2="535" y2="411.5" stroke="#ebebec" stroke-width="4.4"/>
<line x1="523.5" y1="423.8" x2="545" y2="429" stroke="#ebebec" stroke-width="4.4"/>
<line x1="523.5" y1="423.8" x2="515.5" y2="441" stroke="#ebebec" stroke-width="4.4"/>
<circle cx="523.5" cy="423.8" r="5.2" fill="#ebebec"/>
<circle cx="523.5" cy="423.8" r="1.8" fill="#2a4a6a"/>
<circle cx="491.3" cy="424.3" r="10.6" fill="#ebebec"/>
<circle cx="491.3" cy="424.3" r="4" fill="#0b4f86"/>
<circle cx="515.5" cy="406.5" r="6.8" fill="#ebebec"/>
<circle cx="515.5" cy="406.5" r="2.2" fill="#1d2f45"/>
<circle cx="535" cy="411.5" r="6.8" fill="#ebebec"/>
<circle cx="535" cy="411.5" r="2.2" fill="#1d2f45"/>
<circle cx="545" cy="429" r="6.8" fill="#ebebec"/>
<circle cx="545" cy="429" r="2.2" fill="#1d2f45"/>
<circle cx="515.5" cy="441" r="6.8" fill="#ebebec"/>
<circle cx="515.5" cy="441" r="2.2" fill="#1d2f45"/>
</svg>
</body></html>
